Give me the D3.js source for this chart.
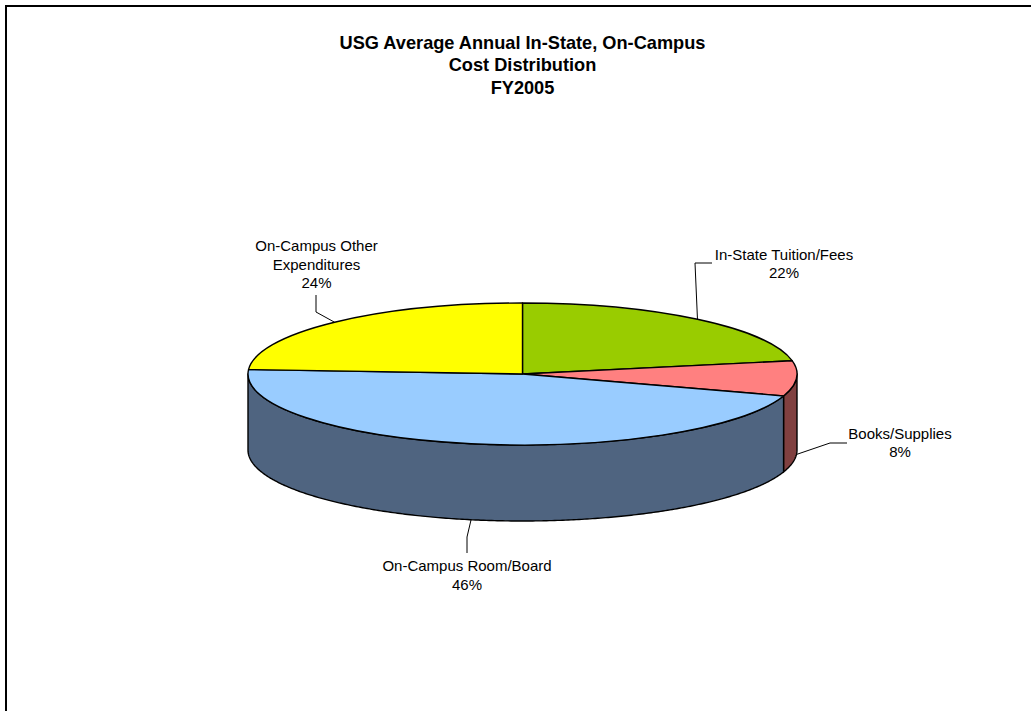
<!DOCTYPE html>
<html>
<head>
<meta charset="utf-8">
<script src="https://cdn.jsdelivr.net/npm/d3@7"></script>
<style>
  body { margin: 0; background: #fff; }
  svg { display: block; }
  text { font-family: "Liberation Sans", Arial, sans-serif; fill: #000; }
</style>
</head>
<body>
<svg id="chart" width="1031" height="711"></svg>
<script>
const titleLines = ['USG Average Annual In-State, On-Campus', 'Cost Distribution', 'FY2005'];
const categories = ['In-State Tuition/Fees', 'Books/Supplies', 'On-Campus Room/Board', 'On-Campus Other Expenditures'];
const values = [22, 8, 46, 24];
const labelLines = [
  ['In-State Tuition/Fees', '22%'],
  ['Books/Supplies', '8%'],
  ['On-Campus Room/Board', '46%'],
  ['On-Campus Other', 'Expenditures', '24%']
];
const topColors = ['#99cc00', '#ff8080', '#99ccff', '#ffff00'];
const sideColors = ['#4c6600', '#804040', '#4f6480', '#808000'];

// leader line bends and label anchors, in page pixels
const leaderBends = [
  [[695, 263], [712, 263]],
  [[830, 443], [847, 443]],
  [[467, 537], [467, 553]],
  [[316, 312], [316, 295]]
];
const labelAnchors = [[784, 259.5], [900, 438.5], [467, 571], [316.5, 251]];

const cx = 522.5, cy = 374, rx = 274.5, ry = 71, depth = 76;

const svg = d3.select('#chart');

// frame only shows on top and left, the rest is cropped off
svg.append('path')
  .attr('d', 'M6,711V6H1031')
  .attr('fill', 'none')
  .attr('stroke', '#000')
  .attr('stroke-width', 2);

const title = svg.append('text')
  .attr('text-anchor', 'middle')
  .style('font-size', '18.2px')
  .style('font-weight', 'bold');
title.selectAll('tspan')
  .data(titleLines)
  .join('tspan')
  .attr('x', 522.5)
  .attr('y', (d, i) => 48.5 + i * 22.7)
  .text((d) => d);

const pieGenerator = d3.pie().sort(null);
const arcData = pieGenerator(values);

// angles run clockwise from 12 o'clock, then get squashed onto the ellipse
const ex = (a) => cx + rx * Math.sin(a);
const ey = (a) => cy - ry * Math.cos(a);

const wallGenerator = d3.area()
  .x((a) => ex(a))
  .y0((a) => ey(a))
  .y1((a) => ey(a) + depth);

// only the front half (90deg..270deg) of the rim can be seen
const frontStart = Math.PI / 2, frontEnd = Math.PI * 1.5;
const wallSteps = (d) => {
  const a0 = Math.max(d.startAngle, frontStart);
  const a1 = Math.min(d.endAngle, frontEnd);
  if (a1 <= a0) return null;
  const n = Math.ceil((a1 - a0) / 0.01);
  return d3.range(n + 1).map((i) => a0 + (a1 - a0) * i / n);
};

svg.append('g')
  .selectAll('path')
  .data(arcData.filter((d) => wallSteps(d)))
  .join('path')
  .attr('d', (d) => wallGenerator(wallSteps(d)))
  .attr('fill', (d) => sideColors[d.index])
  .attr('stroke', '#000')
  .attr('stroke-width', 1.4)
  .attr('stroke-linejoin', 'round');

const arcGenerator = d3.arc().innerRadius(0).outerRadius(rx);

svg.append('g')
  .attr('transform', `translate(${cx},${cy}) scale(1,${ry / rx})`)
  .selectAll('path')
  .data(arcData)
  .join('path')
  .attr('d', arcGenerator)
  .attr('fill', (d) => topColors[d.index])
  .attr('stroke', '#000')
  .attr('stroke-width', 1.4)
  .attr('stroke-linejoin', 'round')
  .attr('vector-effect', 'non-scaling-stroke');

// leaders start on the rim at the middle of each slice
const leaderStart = (d) => {
  const a = (d.startAngle + d.endAngle) / 2;
  const onFront = a > frontStart && a < frontEnd;
  return [ex(a), ey(a) + (onFront ? depth : 0)];
};

svg.append('g')
  .selectAll('path')
  .data(arcData)
  .join('path')
  .attr('d', (d) => d3.line()([leaderStart(d), ...leaderBends[d.index]]))
  .attr('fill', 'none')
  .attr('stroke', '#000')
  .attr('stroke-width', 1);

const labels = svg.append('g')
  .selectAll('text')
  .data(categories)
  .join('text')
  .attr('text-anchor', 'middle')
  .style('font-size', '15px');

labels.selectAll('tspan')
  .data((d, i) => labelLines[i].map((line) => ({ line, anchor: labelAnchors[i] })))
  .join('tspan')
  .attr('x', (d) => d.anchor[0])
  .attr('y', (d, i) => d.anchor[1] + i * 18.6)
  .text((d) => d.line);
</script>
</body>
</html>
